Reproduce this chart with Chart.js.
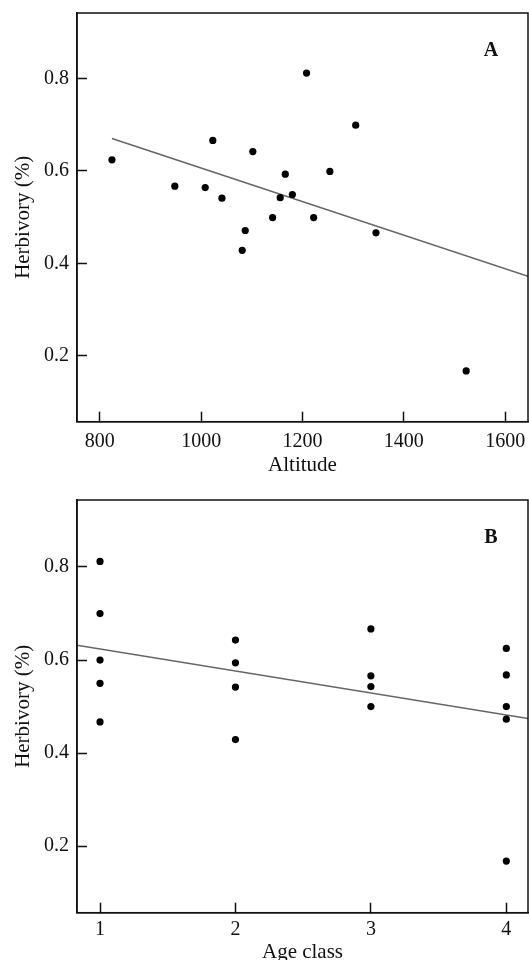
<!DOCTYPE html>
<html>
<head>
<meta charset="utf-8">
<script src="https://cdn.jsdelivr.net/npm/chart.js@4/dist/chart.umd.min.js"></script>
<style>
  html, body { margin: 0; padding: 0; background: #fff; width: 529px; height: 960px; overflow: hidden; }
  #wrapA { position: absolute; left: 0; top: 0; width: 529px; height: 480px; }
  #wrapB { position: absolute; left: 0; top: 480px; width: 529px; height: 500px; }
</style>
</head>
<body>
<div id="wrapA"><canvas id="chartA" width="529" height="480"></canvas></div>
<div id="wrapB"><canvas id="chartB" width="529" height="500"></canvas></div>
<script>
// ---- Data ----
const altitude   = [824, 948, 1008, 1023, 1041, 1081, 1087, 1102, 1141, 1156, 1166, 1180, 1208, 1222, 1254, 1305, 1345, 1523];
const herbivoryA = [0.624, 0.567, 0.564, 0.666, 0.541, 0.428, 0.471, 0.642, 0.499, 0.542, 0.593, 0.549, 0.812, 0.499, 0.599, 0.699, 0.466, 0.167];

const ageClass   = [1, 1, 1, 1, 1, 2, 2, 2, 2, 3, 3, 3, 3, 4, 4, 4, 4, 4];
const herbivoryB = [0.812, 0.700, 0.600, 0.550, 0.467, 0.643, 0.594, 0.542, 0.429, 0.667, 0.566, 0.543, 0.500, 0.625, 0.568, 0.500, 0.473, 0.168];

// regression lines (end points)
const fitAltX = [824, 1645];
const fitAltY = [0.670, 0.372];
const fitAgeX = [0.83, 4.16];
const fitAgeY = [0.632, 0.4745];

// tick labels
const yTickValues   = [0.2, 0.4, 0.6, 0.8];
const altTickValues = [800, 1000, 1200, 1400, 1600];
const ageTickValues = [1, 2, 3, 4];

const SERIF = '"Liberation Serif", "Times New Roman", serif';
const INK = '#111';

const framePlugin = {
  id: 'frame',
  afterDraw(chart, args, opts) {
    const { ctx, chartArea: a } = chart;
    ctx.save();
    ctx.strokeStyle = INK;
    ctx.lineWidth = 1.5;
    ctx.strokeRect(a.left, a.top, a.right - a.left, a.bottom - a.top);
    ctx.fillStyle = INK;
    ctx.font = 'bold 20px ' + SERIF;
    ctx.textAlign = 'center';
    ctx.textBaseline = 'middle';
    ctx.fillText(opts.letter, a.right - 37, a.top + 37.5);
    ctx.restore();
  }
};

function pts(xs, ys) { return xs.map((x, i) => ({ x: x, y: ys[i] })); }

function makeChart(id, cfg) {
  return new Chart(document.getElementById(id), {
    type: 'scatter',
    data: {
      datasets: [
        {
          type: 'line',
          data: pts(cfg.fitX, cfg.fitY),
          borderColor: '#666666',
          borderWidth: 1.6,
          pointRadius: 0,
          fill: false,
          order: 2
        },
        {
          type: 'scatter',
          data: pts(cfg.xs, cfg.ys),
          backgroundColor: '#000',
          borderColor: '#000',
          pointRadius: 3.6,
          borderWidth: 0,
          order: 1
        }
      ]
    },
    plugins: [framePlugin],
    options: {
      responsive: false,
      animation: false,
      devicePixelRatio: 1,
      layout: { autoPadding: false, padding: { top: cfg.padTop, right: 1, left: 0, bottom: 0 } },
      plugins: {
        legend: { display: false },
        tooltip: { enabled: false },
        frame: { letter: cfg.letter }
      },
      scales: {
        x: {
          type: 'linear',
          min: cfg.xMin, max: cfg.xMax,
          afterBuildTicks: s => { s.ticks = cfg.xTicks.map(v => ({ value: v })); },
          afterFit: s => { s.height = cfg.xAxisHeight; s.paddingLeft = 0; s.paddingRight = 0; },
          ticks: {
            color: INK, font: { family: SERIF, size: 20 }, padding: cfg.xTickPad,
            maxRotation: 0, autoSkip: false,
            callback: v => String(v)
          },
          grid: { display: true, drawOnChartArea: false, drawTicks: true, tickLength: -10, tickColor: INK, tickWidth: 1.5 },
          border: { display: true, color: INK, width: 1.5 },
          title: {
            display: true, text: cfg.xTitle, color: INK,
            font: { family: SERIF, size: 21 },
            padding: { top: 0, bottom: cfg.xTitlePad }
          }
        },
        y: {
          type: 'linear',
          min: cfg.yMin, max: cfg.yMax,
          afterBuildTicks: s => { s.ticks = yTickValues.map(v => ({ value: v })); },
          afterFit: s => { s.width = 77; s.paddingTop = 0; s.paddingBottom = 0; },
          ticks: {
            color: INK, font: { family: SERIF, size: 20 }, padding: 18,
            callback: v => Number(v).toFixed(1)
          },
          grid: { display: true, drawOnChartArea: false, drawTicks: true, tickLength: -10, tickColor: INK, tickWidth: 1.5 },
          border: { display: true, color: INK, width: 1.5 },
          title: {
            display: true, text: 'Herbivory (%)', color: INK,
            font: { family: SERIF, size: 21 },
            padding: { top: 10.5, bottom: 0 }
          }
        }
      }
    }
  });
}

makeChart('chartA', {
  xs: altitude, ys: herbivoryA, fitX: fitAltX, fitY: fitAltY,
  xMin: 755, xMax: 1645, yMin: 0.057, yMax: 0.942,
  xTicks: altTickValues, xTitle: 'Altitude', letter: 'A',
  padTop: 13, xAxisHeight: 58.3, xTickPad: 18.3, xTitlePad: 2.4
});

makeChart('chartB', {
  xs: ageClass, ys: herbivoryB, fitX: fitAgeX, fitY: fitAgeY,
  xMin: 0.83, xMax: 4.16, yMin: 0.057, yMax: 0.944,
  xTicks: ageTickValues, xTitle: 'Age class', letter: 'B',
  padTop: 20, xAxisHeight: 67.3, xTickPad: 15.3, xTitlePad: 14.9
});
</script>
</body>
</html>
